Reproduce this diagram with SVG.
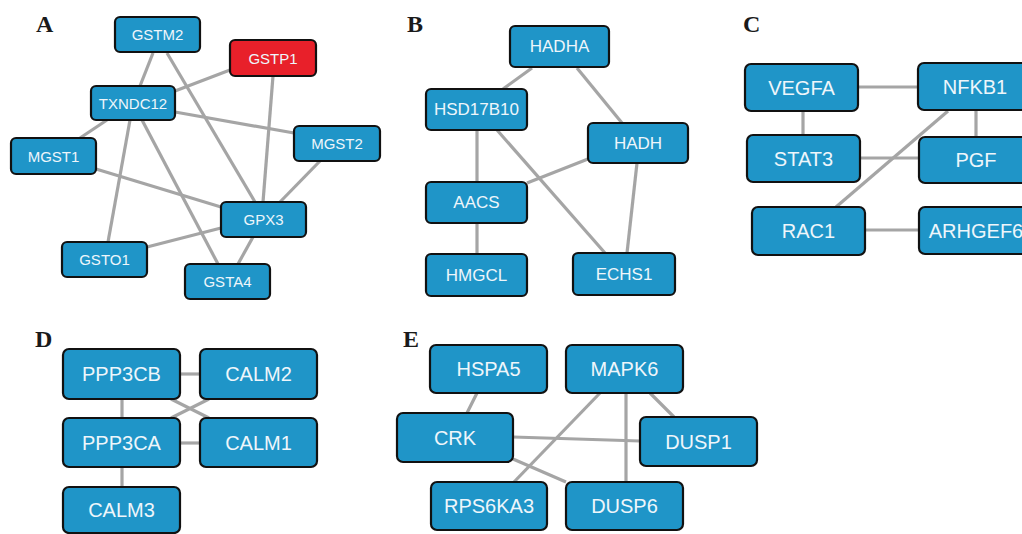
<svg xmlns="http://www.w3.org/2000/svg" width="1022" height="534" viewBox="0 0 1022 534">
<style>
.bg{fill:#ffffff}
.lbl{font-family:"Liberation Serif",serif;font-weight:bold;font-size:24px;fill:#1a1a1a}
.n rect{fill:#1f95c8;stroke:#111;stroke-width:2.2}
.n.red rect{fill:#e8202a}
.n text{font-family:"Liberation Sans",Arial,sans-serif;fill:#eef6fb;text-anchor:middle;dominant-baseline:central}
.a text{font-size:15px}
.b text{font-size:17px}
.c text{font-size:20px}
#edges line{stroke:#a5a5a5;stroke-width:3.2;stroke-linecap:butt}
</style>
<rect class="bg" x="0" y="0" width="1022" height="534"/>
<g id="labels">
<text class="lbl" x="36" y="32">A</text>
<text class="lbl" x="407" y="32">B</text>
<text class="lbl" x="743" y="32">C</text>
<text class="lbl" x="35" y="347">D</text>
<text class="lbl" x="403" y="347">E</text>
</g>
<g id="edges">
<!-- A -->
<line x1="153" y1="53" x2="140" y2="86"/>
<line x1="167" y1="53" x2="255" y2="202"/>
<line x1="230" y1="70" x2="175" y2="91"/>
<line x1="273" y1="76" x2="263" y2="202"/>
<line x1="175" y1="112" x2="294" y2="133"/>
<line x1="107" y1="120" x2="80" y2="138"/>
<line x1="130" y1="120" x2="108" y2="242"/>
<line x1="142" y1="120" x2="218" y2="264"/>
<line x1="96" y1="169" x2="221" y2="207"/>
<line x1="320" y1="161" x2="280" y2="202"/>
<line x1="147" y1="247" x2="221" y2="228"/>
<line x1="253" y1="237" x2="238" y2="264"/>
<!-- B -->
<line x1="532" y1="68" x2="503" y2="89"/>
<line x1="577" y1="68" x2="622" y2="123"/>
<line x1="477" y1="130" x2="477" y2="182"/>
<line x1="497" y1="130" x2="605" y2="253"/>
<line x1="588" y1="159" x2="527" y2="183"/>
<line x1="637" y1="163" x2="627" y2="253"/>
<line x1="477" y1="223" x2="477" y2="254"/>
<!-- C -->
<line x1="858" y1="87" x2="918" y2="87"/>
<line x1="803" y1="111" x2="803" y2="135"/>
<line x1="976" y1="110" x2="976" y2="137"/>
<line x1="860" y1="158" x2="919" y2="158"/>
<line x1="948" y1="111" x2="836" y2="207"/>
<line x1="865" y1="230" x2="919" y2="230"/>
<!-- D -->
<line x1="180" y1="374" x2="200" y2="374"/>
<line x1="122" y1="399" x2="122" y2="418"/>
<line x1="180" y1="443" x2="200" y2="443"/>
<line x1="122" y1="467" x2="122" y2="487"/>
<line x1="171" y1="399" x2="209" y2="418"/>
<line x1="171" y1="418" x2="209" y2="399"/>
<!-- E -->
<line x1="477" y1="393" x2="467" y2="413"/>
<line x1="650" y1="393" x2="674" y2="417"/>
<line x1="626" y1="393" x2="626" y2="482"/>
<line x1="600" y1="393" x2="514" y2="482"/>
<line x1="513" y1="437" x2="640" y2="441"/>
<line x1="513" y1="459" x2="566" y2="482"/>
</g>
<!-- Panel A nodes -->
<g id="GSTM2" class="n a"><rect x="115" y="17" width="85" height="35" rx="5"/><text x="157.5" y="34.5">GSTM2</text></g>
<g id="GSTP1" class="n a red"><rect x="230" y="40" width="86" height="36" rx="5"/><text x="273" y="58">GSTP1</text></g>
<g id="TXNDC12" class="n a"><rect x="91" y="86" width="84" height="34" rx="5"/><text x="133" y="103">TXNDC12</text></g>
<g id="MGST1" class="n a"><rect x="11" y="138" width="85" height="36" rx="5"/><text x="53.5" y="156">MGST1</text></g>
<g id="MGST2" class="n a"><rect x="294" y="126" width="86" height="35" rx="5"/><text x="337" y="143.5">MGST2</text></g>
<g id="GPX3" class="n a"><rect x="221" y="202" width="85" height="35" rx="5"/><text x="263.5" y="219.5">GPX3</text></g>
<g id="GSTO1" class="n a"><rect x="62" y="242" width="85" height="35" rx="5"/><text x="104.5" y="259.5">GSTO1</text></g>
<g id="GSTA4" class="n a"><rect x="185" y="264" width="85" height="35" rx="5"/><text x="227.5" y="281.5">GSTA4</text></g>
<!-- Panel B nodes -->
<g id="HADHA" class="n b"><rect x="510" y="26" width="99" height="41" rx="5"/><text x="559.5" y="46.5">HADHA</text></g>
<g id="HSD17B10" class="n b"><rect x="426" y="89" width="101" height="41" rx="5"/><text x="476.5" y="109.5">HSD17B10</text></g>
<g id="HADH" class="n b"><rect x="588" y="123" width="100" height="40" rx="5"/><text x="638" y="143">HADH</text></g>
<g id="AACS" class="n b"><rect x="426" y="182" width="101" height="41" rx="5"/><text x="476.5" y="202.5">AACS</text></g>
<g id="HMGCL" class="n b"><rect x="426" y="254" width="101" height="42" rx="5"/><text x="476.5" y="275">HMGCL</text></g>
<g id="ECHS1" class="n b"><rect x="573" y="253" width="102" height="42" rx="5"/><text x="624" y="274">ECHS1</text></g>
<!-- Panel C nodes -->
<g id="VEGFA" class="n c"><rect x="745" y="64" width="113" height="47" rx="6"/><text x="801.5" y="87.5">VEGFA</text></g>
<g id="NFKB1" class="n c"><rect x="918" y="63" width="114" height="47" rx="6"/><text x="975" y="86.5">NFKB1</text></g>
<g id="STAT3" class="n c"><rect x="747" y="135" width="113" height="47" rx="6"/><text x="803.5" y="158.5">STAT3</text></g>
<g id="PGF" class="n c"><rect x="919" y="137" width="114" height="46" rx="6"/><text x="976" y="160">PGF</text></g>
<g id="RAC1" class="n c"><rect x="752" y="207" width="113" height="48" rx="6"/><text x="808.5" y="231">RAC1</text></g>
<g id="ARHGEF6" class="n c"><rect x="919" y="207" width="114" height="47" rx="6"/><text x="976" y="230.5">ARHGEF6</text></g>
<!-- Panel D nodes -->
<g id="PPP3CB" class="n c"><rect x="63" y="349" width="117" height="50" rx="6"/><text x="121.5" y="374">PPP3CB</text></g>
<g id="CALM2" class="n c"><rect x="200" y="349" width="117" height="50" rx="6"/><text x="258.5" y="374">CALM2</text></g>
<g id="PPP3CA" class="n c"><rect x="63" y="418" width="117" height="49" rx="6"/><text x="121.5" y="442.5">PPP3CA</text></g>
<g id="CALM1" class="n c"><rect x="200" y="418" width="117" height="49" rx="6"/><text x="258.5" y="442.5">CALM1</text></g>
<g id="CALM3" class="n c"><rect x="63" y="487" width="117" height="46" rx="6"/><text x="121.5" y="510">CALM3</text></g>
<!-- Panel E nodes -->
<g id="HSPA5" class="n c"><rect x="430" y="345" width="117" height="48" rx="6"/><text x="488.5" y="369">HSPA5</text></g>
<g id="MAPK6" class="n c"><rect x="566" y="345" width="117" height="48" rx="6"/><text x="624.5" y="369">MAPK6</text></g>
<g id="CRK" class="n c"><rect x="397" y="413" width="116" height="49" rx="6"/><text x="455" y="437.5">CRK</text></g>
<g id="DUSP1" class="n c"><rect x="640" y="417" width="117" height="49" rx="6"/><text x="698.5" y="441.5">DUSP1</text></g>
<g id="RPS6KA3" class="n c"><rect x="431" y="482" width="116" height="48" rx="6"/><text x="489" y="506">RPS6KA3</text></g>
<g id="DUSP6" class="n c"><rect x="566" y="482" width="117" height="48" rx="6"/><text x="624.5" y="506">DUSP6</text></g>
</svg>
